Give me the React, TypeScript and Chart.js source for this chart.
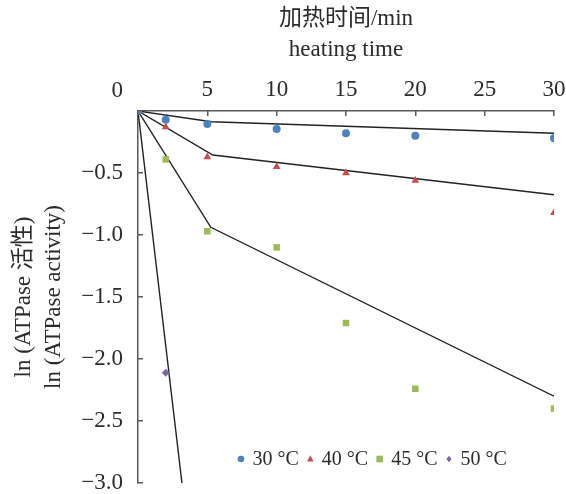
import React, { useEffect, useRef } from 'react';
import { Chart, registerables } from 'chart.js';

Chart.register(...registerables);

// ---- data ----
const timeMin = [0, 2, 5, 10, 15, 20, 30];
const ln30 = [0, -0.07, -0.105, -0.145, -0.18, -0.2, -0.22];
const ln40 = [0, -0.13, -0.37, -0.45, -0.5, -0.56, -0.82];
const ln45 = [0, -0.39, -0.97, -1.1, -1.71, -2.24, -2.4];
const time50 = [0, 2];
const ln50 = [0, -2.11];

const fit30X = [0, 5.3, 30];
const fit30Y = [0, -0.087, -0.18];
const fit40X = [0, 5.4, 30];
const fit40Y = [0, -0.355, -0.675];
const fit45X = [0, 5.25, 30];
const fit45Y = [0, -0.938, -2.3];
const fit50X = [0, 3.17];
const fit50Y = [0, -3.0];

const legendLabels = ['30 °C', '40 °C', '45 °C', '50 °C'];
const xTicks = [0, 5, 10, 15, 20, 25, 30];
const yTicks = [0, -0.5, -1.0, -1.5, -2.0, -2.5, -3.0];
const xTitle = ['加热时间/min', 'heating time'];
const yTitle = ['ln (ATPase 活性)', 'ln (ATPase activity)'];

// ---- styles ----
const colors = ['#4F81BD', '#C0504D', '#9BBB59', '#8064A2'];
const shapes = ['circle', 'triangle', 'rect', 'rectRot'];
const radii = [4, 4.5, 4.6, 4];
const TEXT = '#2b2b2b';
const AXIS = '#595959';
const FONT = '"Liberation Serif", "Times New Roman", "Noto Sans CJK SC", serif';

const pts = (xs: number[], ys: number[]) => xs.map((x, i) => ({ x, y: ys[i] }));

const fmtY = (v: number) => (v === 0 ? '' : (v < 0 ? '\u2212' : '') + Math.abs(v).toFixed(1));

function drawMarker(ctx: CanvasRenderingContext2D, style: string, x: number, y: number, s: number) {
  ctx.beginPath();
  if (style === 'circle') {
    ctx.arc(x, y, s, 0, Math.PI * 2);
  } else if (style === 'triangle') {
    ctx.moveTo(x, y - s * 1.1);
    ctx.lineTo(x + s, y + s * 0.75);
    ctx.lineTo(x - s, y + s * 0.75);
    ctx.closePath();
  } else if (style === 'rect') {
    ctx.rect(x - s, y - s, 2 * s, 2 * s);
  } else {
    ctx.moveTo(x, y - s);
    ctx.lineTo(x + s * 0.8, y);
    ctx.lineTo(x, y + s);
    ctx.lineTo(x - s * 0.8, y);
    ctx.closePath();
  }
  ctx.fill();
}

const overlayPlugin = {
  id: 'overlay',
  afterDraw(chart: any) {
    const { ctx, chartArea } = chart;
    ctx.save();
    // origin label
    ctx.font = `23px ${FONT}`;
    ctx.fillStyle = TEXT;
    ctx.textAlign = 'right';
    ctx.textBaseline = 'middle';
    ctx.fillText('0', chartArea.left - 15, chartArea.top - 20);

    // legend
    ctx.font = `20px ${FONT}`;
    ctx.textAlign = 'left';
    const gap = 11.5;
    const widths = legendLabels.map((l) => ctx.measureText(l).width);
    let x = chartArea.left + 103;
    const y = chartArea.bottom - 24;
    legendLabels.forEach((label, i) => {
      ctx.fillStyle = colors[i];
      drawMarker(ctx, shapes[i], x, y, 3.3);
      ctx.fillStyle = TEXT;
      ctx.fillText(label, x + gap, y + 1);
      x += gap + widths[i] + gap;
    });
    ctx.restore();
  },
};

const zeroPad = (s: any) => {
  s.paddingLeft = 0;
  s.paddingRight = 0;
  s.paddingTop = 0;
  s.paddingBottom = 0;
};

export default function App() {
  const ref = useRef<HTMLCanvasElement | null>(null);

  useEffect(() => {
    if (!ref.current) return;
    const seriesX = [timeMin, timeMin, timeMin, time50];
    const seriesY = [ln30, ln40, ln45, ln50];
    const fitsX = [fit30X, fit40X, fit45X, fit50X];
    const fitsY = [fit30Y, fit40Y, fit45Y, fit50Y];

    const pointSets = legendLabels.map((label, i) => ({
      type: 'scatter' as const,
      label,
      data: pts(seriesX[i], seriesY[i]),
      pointStyle: shapes[i],
      pointRadius: radii[i],
      pointBackgroundColor: colors[i],
      pointBorderColor: colors[i],
      pointBorderWidth: 0,
      showLine: false,
      order: i === 3 ? 1 : 2 + i,
    }));
    const fitSets = legendLabels.map((label, i) => ({
      type: 'scatter' as const,
      label: label + ' fit',
      data: pts(fitsX[i], fitsY[i]),
      showLine: true,
      borderColor: '#222222',
      borderWidth: 1.4,
      pointRadius: 0,
      fill: false,
      order: 10,
    }));

    const chart = new Chart(ref.current, {
      type: 'scatter',
      data: { datasets: [...pointSets, ...fitSets] as any },
      options: {
        animation: false,
        responsive: true,
        maintainAspectRatio: false,
        layout: { padding: { top: 0, left: 0, right: 12, bottom: 11 } },
        plugins: {
          legend: { display: false },
          tooltip: { enabled: false },
        },
        scales: {
          x: {
            type: 'linear',
            position: 'top',
            min: 0,
            max: 30,
            afterFit: (s: any) => {
              s.height = 111;
              zeroPad(s);
            },
            afterBuildTicks: (s: any) => {
              s.ticks = xTicks.map((v) => ({ value: v }));
            },
            ticks: {
              color: TEXT,
              font: { family: FONT, size: 23 },
              padding: 12,
              maxRotation: 0,
              callback: (v: any) => (v === 0 ? '' : String(v)),
            },
            grid: {
              drawOnChartArea: false,
              drawTicks: true,
              tickLength: -5,
              color: AXIS,
              lineWidth: 1.5,
            },
            border: { display: true, color: AXIS, width: 1.5 },
            title: {
              display: true,
              text: xTitle,
              color: TEXT,
              font: { family: FONT, size: 23, lineHeight: 1.35 },
              padding: { top: 3, bottom: 0 },
            },
          },
          y: {
            type: 'linear',
            position: 'left',
            min: -3,
            max: 0,
            afterFit: (s: any) => {
              s.width = 138;
              zeroPad(s);
            },
            afterBuildTicks: (s: any) => {
              s.ticks = yTicks.map((v) => ({ value: v }));
            },
            ticks: {
              color: TEXT,
              font: { family: FONT, size: 23 },
              padding: 20,
              callback: (v: any) => fmtY(Number(v)),
            },
            grid: {
              drawOnChartArea: false,
              drawTicks: true,
              tickLength: -5,
              color: AXIS,
              lineWidth: 1.5,
            },
            border: { display: true, color: AXIS, width: 1.5 },
            title: {
              display: true,
              text: yTitle,
              color: TEXT,
              font: { family: FONT, size: 23, lineHeight: 1.3 },
              padding: { top: 9, bottom: 0 },
            },
          },
        },
      },
      plugins: [overlayPlugin],
    });
    return () => chart.destroy();
  }, []);

  return (
    <div style={{ position: 'absolute', left: 0, top: 0, width: 566, height: 494, background: '#fff' }}>
      <canvas ref={ref} />
    </div>
  );
}
